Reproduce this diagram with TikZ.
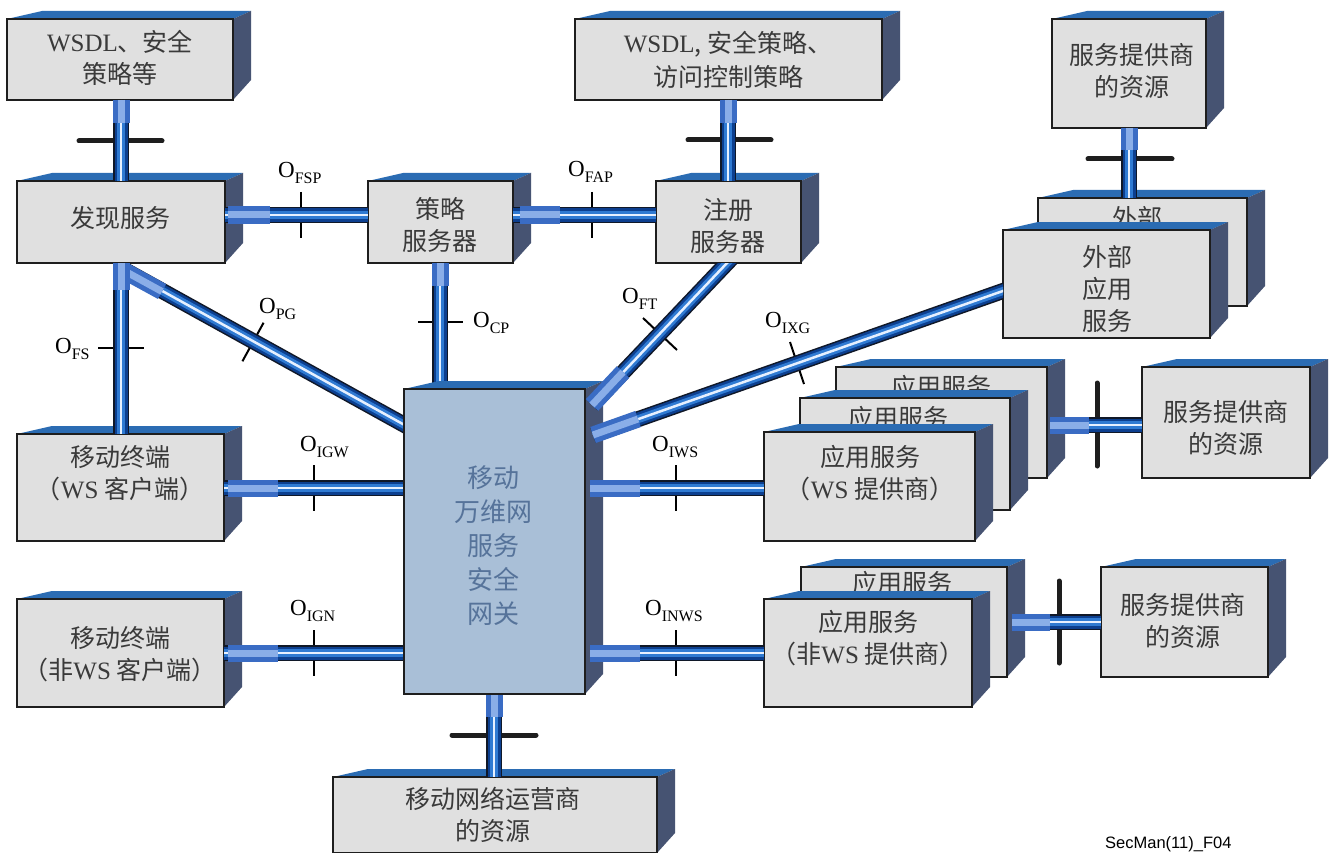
\documentclass[tikz,border=0pt]{standalone}
\usepackage{fontspec}
\setmainfont{Liberation Serif}
\newfontfamily\cjk{Noto Sans CJK SC}
\newfontfamily\sansf{Liberation Sans}
\usetikzlibrary{calc}
\definecolor{topc}{HTML}{2B6CB3}
\definecolor{sidec}{HTML}{465372}
\definecolor{frontc}{HTML}{E0E0E0}
\definecolor{gatec}{HTML}{A9BFD7}
\definecolor{edgec}{HTML}{1E1E1E}
\definecolor{txtc}{HTML}{3A3A3A}
\definecolor{tubeedge}{HTML}{101828}
\definecolor{tubedark}{HTML}{0C3F8F}
\definecolor{tubemid}{HTML}{2F7AD2}
\definecolor{tubehi}{HTML}{E6F0FF}
\definecolor{collarc}{HTML}{3A6CC4}
\definecolor{collarhi}{HTML}{8AAEE8}
\definecolor{gtxt}{HTML}{56739A}
\newcommand\lat[1]{{\rmfamily #1}}
\newcommand\cube[6][]{%
  \fill[topface] (#3,#4) -- ++(35,-8) -- ++(#5-17,0) -- ++(-18,8) -- cycle;
  \fill[sideface] (#3+#5,#4) -- ++(18,-8) -- ++(0,#6-12) -- ++(-18,20) -- cycle;
  \node[box,#1,minimum width=#5,minimum height=#6] (#2) at (#3,#4) {};}
\newcommand\tube[2]{%
  \draw[tA] (#1) -- (#2); \draw[tB] (#1) -- (#2);
  \draw[tC] (#1) -- (#2); \draw[tD] (#1) -- (#2);}
\newcommand\collar[2]{\draw[cA] (#1) -- (#2); \draw[cB] (#1) -- (#2);}
\newcommand\olbl[1]{{\fontsize{23}{23}\selectfont O}\raisebox{-6pt}{\fontsize{16}{16}\selectfont #1}}
\tikzset{
  box/.style={draw=edgec, line width=1.3pt, fill=frontc, inner sep=0pt, outer sep=0pt, anchor=north west},
  topface/.style={fill=topc},
  sideface/.style={fill=sidec},
  txt/.style={text=txtc, align=center, font=\fontsize{25}{32}\selectfont\cjk, inner sep=0pt},
  lbl/.style={anchor=base west, inner sep=0pt, text=black},
  tA/.style={line width=16pt, draw=tubeedge},
  tB/.style={line width=13pt, draw=tubedark},
  tC/.style={line width=8pt, draw=tubemid},
  tD/.style={line width=2.5pt, draw=tubehi},
  cA/.style={line width=17pt, draw=collarc},
  cB/.style={line width=7pt, draw=collarhi},
  tick/.style={line width=2pt, draw=black},
  crossbar/.style={line width=5pt, draw=edgec, line cap=round},
}
\begin{document}
\begin{tikzpicture}[x=1pt,y=-1pt]
\clip (0,0) rectangle (1330,853);
\fill[white] (0,0) rectangle (1330,853);

% ---------- boxes ----------
\cube{wsdlA}{7}{19}{226}{81}
\node[txt] (twsdlA) at (120,58) {\lat{WSDL}、安全\\策略等};
\cube{disc}{17}{181}{208}{82}
\node[txt] (tdisc) at (120,218) {发现服务};
\cube{pol}{368}{181}{145}{82}
\node[txt] (tpol) at (440,225) {策略\\服务器};
\cube{reg}{656}{181}{145}{82}
\node[txt] (treg) at (728,226) {注册\\服务器};
\cube{wsdlB}{575}{19}{307}{81}
\node[txt,font=\fontsize{25}{34}\selectfont\cjk] (twsdlB) at (728,60) {\lat{WSDL}, 安全策略、\\访问控制策略};
\cube{sprA}{1052}{19}{154}{109}
\node[txt] (tsprA) at (1132,71) {服务提供商\\的资源};
\cube{extB}{1038}{198}{209}{108}
\node[txt] (textB) at (1137,218) {外部};
\cube{extF}{1003}{230}{207}{108}
\node[txt] (textF) at (1107,289) {外部\\应用\\服务};
\cube{mtA}{17}{434}{207}{107}
\node[txt] (tmtA) at (120,473) {移动终端\\（\lat{WS} 客户端）};
\cube{mtB}{17}{599}{207}{108}
\node[txt] (tmtB) at (120,654) {移动终端\\（非\lat{WS} 客户端）};
\cube{wsB}{836}{367}{211}{111}
\node[txt] (twsB) at (941,387) {应用服务};
\cube{wsM}{800}{398}{210}{112}
\node[txt] (twsM) at (898,418) {应用服务};
\cube{wsF}{764}{432}{211}{109}
\node[txt] (twsF) at (870,473) {应用服务\\（\lat{WS} 提供商）};
\cube{sprB}{1142}{367}{168}{111}
\node[txt] (tsprB) at (1226,428) {服务提供商\\的资源};
\cube{nwB}{801}{567}{206}{110}
\node[txt] (tnwB) at (902,583) {应用服务};
\cube{nwF}{764}{599}{208}{108}
\node[txt] (tnwF) at (868,638) {应用服务\\（非\lat{WS} 提供商）};
\cube{sprC}{1101}{567}{167}{110}
\node[txt] (tsprC) at (1183,621) {服务提供商\\的资源};
\cube{mres}{333}{777}{324}{76}
\node[txt] (tmres) at (493,815) {移动网络运营商\\的资源};

% ---------- cross bars and ticks (under tubes) ----------
\draw[crossbar] (79,141) coordinate (b1a) -- (162,141) coordinate (b1b);
\draw[crossbar] (688,140) coordinate (b2a) -- (771,140) coordinate (b2b);
\draw[crossbar] (1088,159) coordinate (b3a) -- (1172,159) coordinate (b3b);
\draw[crossbar] (452,735) coordinate (b4a) -- (536,735) coordinate (b4b);
\draw[crossbar] (1097,383) coordinate (b5a) -- (1097,466) coordinate (b5b);
\draw[crossbar] (1059,581) coordinate (b6a) -- (1059,663) coordinate (b6b);
\draw[tick] (301,192) -- (301,238);
\draw[tick] (592,192) -- (592,238);
\draw[tick] (418,322) -- (463,322);
\draw[tick] (98,348) -- (144,348);
\draw[tick] (263.6,322.7) -- (242.4,361.3);
\draw[tick] (643,318) -- (677,350);
\draw[tick] (790,342) -- (804,384);
\draw[tick] (314,465) -- (314,511);
\draw[tick] (314,630) -- (314,676);
\draw[tick] (676,465) -- (676,511);
\draw[tick] (676,630) -- (676,676);

% ---------- tubes behind the gateway ----------
\coordinate (pgA) at (100,256.5);
\coordinate (pgB) at (410,428);
\begin{scope}
  \clip (121,263) rectangle (1330,853);
  \tube{pgA}{pgB}
  \collar{110,263}{162,291.5}
\end{scope}
\coordinate (fsA) at (121,263); \coordinate (fsB) at (121,434);
\tube{fsA}{fsB}
\collar{121,263}{121,290}
\coordinate (cpA) at (440,263); \coordinate (cpB) at (440,395);
\tube{cpA}{cpB}
\collar{440,263}{440,286}
\coordinate (igwA) at (224,488); \coordinate (igwB) at (410,488);
\tube{igwA}{igwB}
\collar{228,488}{278,488}
\coordinate (ignA) at (224,653); \coordinate (ignB) at (410,653);
\tube{ignA}{ignB}
\collar{228,653}{278,653}
\coordinate (mrA) at (494,690); \coordinate (mrB) at (494,777);
\tube{mrA}{mrB}
\collar{494,694}{494,717}

% ---------- gateway ----------
\cube[fill=gatec]{gw}{404}{389}{181}{305}
\node[txt,text=gtxt,font=\fontsize{26}{34}\selectfont\cjk] (tgw) at (493,546) {移动\\万维网\\服务\\安全\\网关};

% ---------- remaining tubes ----------
\coordinate (p1a) at (121,100); \coordinate (p1b) at (121,181);
\tube{p1a}{p1b} \collar{121,100}{121,123}
\coordinate (fspA) at (225,215); \coordinate (fspB) at (368,215);
\tube{fspA}{fspB} \collar{228,215}{270,215}
\coordinate (fapA) at (513,215); \coordinate (fapB) at (656,215);
\tube{fapA}{fapB} \collar{520,215}{560,215}
\coordinate (p5a) at (728,100); \coordinate (p5b) at (728,181);
\tube{p5a}{p5b} \collar{728,100}{728,123}
\coordinate (p6a) at (1129,128); \coordinate (p6b) at (1129,198);
\tube{p6a}{p6b} \collar{1129,128}{1129,150}
\coordinate (ftA) at (737.5,252); \coordinate (ftB) at (592,405);
\begin{scope}
  \clip (0,263) rectangle (1330,853);
  \tube{ftA}{ftB}
\end{scope}
\collar{592,405}{623,372}
\coordinate (ixgA) at (1010,288.5); \coordinate (ixgB) at (593,435);
\begin{scope}
  \clip (0,0) rectangle (1003,853);
  \tube{ixgA}{ixgB}
\end{scope}
\collar{593,435}{638,419}
\coordinate (iwsA) at (590,488); \coordinate (iwsB) at (764,488);
\tube{iwsA}{iwsB} \collar{590,488}{640,488}
\coordinate (inwsA) at (590,653); \coordinate (inwsB) at (764,653);
\tube{inwsA}{inwsB} \collar{590,653}{640,653}
\coordinate (spbA) at (1050,425); \coordinate (spbB) at (1142,425);
\tube{spbA}{spbB} \collar{1050,425}{1089,425}
\coordinate (spcA) at (1012,622); \coordinate (spcB) at (1101,622);
\tube{spcA}{spcB} \collar{1012,622}{1050,622}

% ---------- labels ----------
\node[lbl] (lfsp) at (278,178) {\olbl{FSP}};
\node[lbl] (lfap) at (568,177) {\olbl{FAP}};
\node[lbl] (lpg) at (259,313) {\olbl{PG}};
\node[lbl] (lcp) at (473,327) {\olbl{CP}};
\node[lbl] (lft) at (622,303) {\olbl{FT}};
\node[lbl] (lixg) at (765,327) {\olbl{IXG}};
\node[lbl] (lfs) at (55,353) {\olbl{FS}};
\node[lbl] (ligw) at (300,451) {\olbl{IGW}};
\node[lbl] (lign) at (290,615) {\olbl{IGN}};
\node[lbl] (liws) at (652,451) {\olbl{IWS}};
\node[lbl] (linws) at (645,615) {\olbl{INWS}};
\node[anchor=west, inner sep=0pt, font=\sansf\fontsize{16.5}{16.5}\selectfont] (fig) at (1105,844) {SecMan(11)\_F04};
\end{tikzpicture}
\end{document}
